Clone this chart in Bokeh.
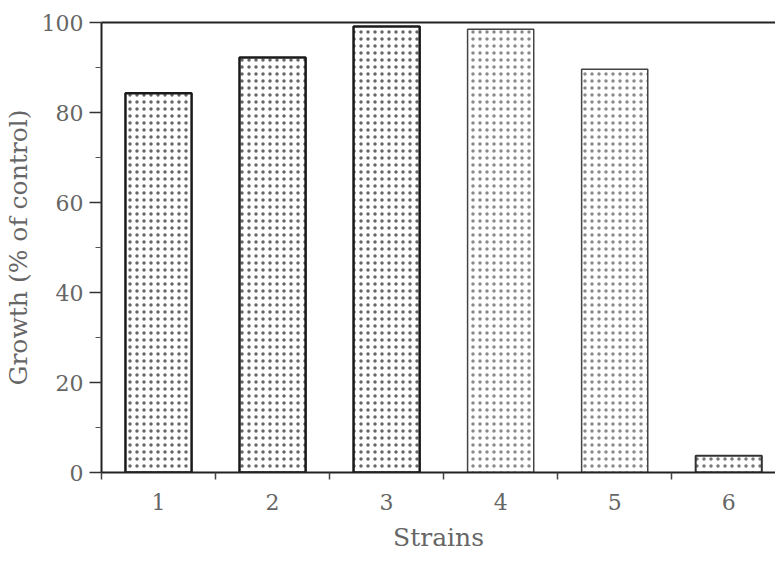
from bokeh.plotting import figure
from bokeh.models import ColumnDataSource, FixedTicker, LinearAxis, Range1d
from bokeh.embed import file_html
from bokeh.resources import INLINE

strains = [1, 2, 3, 4, 5, 6]
strain_labels = ["1", "2", "3", "4", "5", "6"]
growth = [84.3, 92.2, 99.1, 98.5, 89.6, 3.7]
line_colors = ["#1a1a1a", "#1a1a1a", "#1a1a1a", "#444444", "#444444", "#333333"]
line_widths = [2.5, 2.5, 2.5, 1.5, 1.5, 2.0]
hatch_colors = ["#666666", "#666666", "#666666", "#8a8a8a", "#8a8a8a", "#777777"]
y_ticks = [0, 20, 40, 60, 80, 100]
y_minor = [10, 30, 50, 70, 90]

FONT = "DejaVu Serif"
TXT = "#666666"

p = figure(width=775, height=554, output_backend="svg", toolbar_location=None,
           x_range=Range1d(0.5, 6.41), y_range=Range1d(0, 100),
           min_border_left=100, min_border_top=22, min_border_bottom=79, min_border_right=0)
p.outline_line_color = None
p.xgrid.visible = False
p.ygrid.visible = False
p.background_fill_color = "white"

src = ColumnDataSource(dict(x=strains, top=growth, lc=line_colors, lw=line_widths, hc=hatch_colors))
p.vbar(x="x", top="top", bottom=0, width=0.58, source=src,
       fill_color="white", line_color="lc", line_width="lw",
       hatch_pattern="dot", hatch_color="hc", hatch_scale=7, hatch_weight=1.0)

# y axis
ya = p.yaxis[0]
ya.ticker = FixedTicker(ticks=y_ticks, minor_ticks=y_minor)
ya.axis_line_width = 2
ya.axis_line_color = "#222222"
ya.major_tick_out = 12
ya.major_tick_in = 0
ya.minor_tick_out = 6
ya.minor_tick_in = 0
ya.major_tick_line_color = "#333333"
ya.minor_tick_line_color = "#555555"
ya.major_tick_line_width = 1.5
ya.major_label_text_font = FONT
ya.major_label_text_font_size = "22px"
ya.major_label_text_color = TXT
ya.major_label_standoff = 6
ya.axis_label = "Growth (% of control)"
ya.axis_label_text_font = FONT
ya.axis_label_text_font_size = "25px"
ya.axis_label_text_font_style = "normal"
ya.axis_label_text_color = TXT
ya.axis_label_standoff = 6

# x axis
xa = p.xaxis[0]
xa.ticker = FixedTicker(ticks=strains, minor_ticks=[0.5, 1.5, 2.5, 3.5, 4.5, 5.5, 6.5])
xa.major_label_overrides = {s: l for s, l in zip(strains, strain_labels)}
xa.axis_line_width = 2
xa.axis_line_color = "#222222"
xa.major_tick_out = 0
xa.major_tick_in = 0
xa.major_tick_line_color = None
xa.minor_tick_out = 7
xa.minor_tick_in = 0
xa.minor_tick_line_color = "#444444"
xa.minor_tick_line_width = 1.5
xa.major_label_text_font = FONT
xa.major_label_text_font_size = "22px"
xa.major_label_text_color = TXT
xa.major_label_standoff = 14
xa.axis_label = "Strains"
xa.axis_label_text_font = FONT
xa.axis_label_text_font_size = "25px"
xa.axis_label_text_font_style = "normal"
xa.axis_label_text_color = TXT
xa.axis_label_standoff = 10

# top frame line
top = LinearAxis(ticker=FixedTicker(ticks=[]), major_label_text_font_size="0px",
                 axis_line_width=2, axis_line_color="#222222",
                 major_tick_line_color=None, minor_tick_line_color=None)
p.add_layout(top, "above")

open("out.html", "w").write(file_html(p, INLINE))
